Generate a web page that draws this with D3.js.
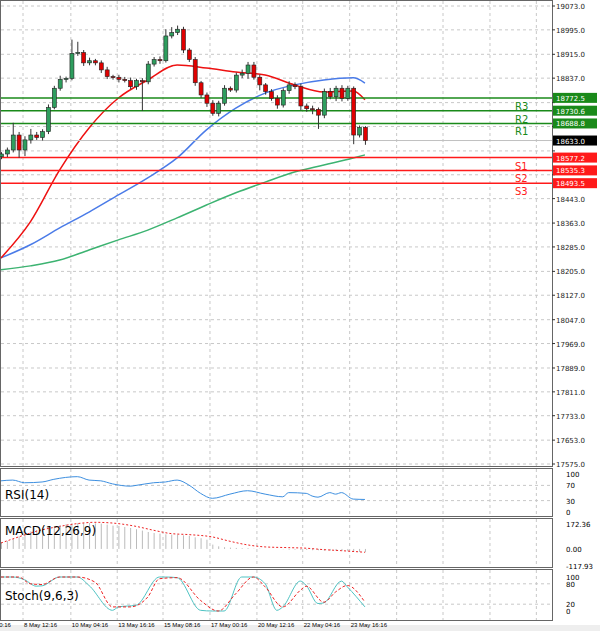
<!DOCTYPE html>
<html><head><meta charset="utf-8">
<script src="https://cdn.jsdelivr.net/npm/d3@7"></script>
<style>body{margin:0;background:#fff}svg{display:block;font-family:"DejaVu Sans",sans-serif}</style>
</head><body><svg id="c" width="600" height="631"></svg>
<script>
'use strict';
// candle closes (open = previous close)
const firstOpen = 18580;
const closes = [18589,18602,18651,18602,18635,18651,18643,18662,18741,18804,18833,18836,18918,18921,18887,18894,18887,18864,18842,18840,18833,18829,18809,18829,18825,18883,18898,18894,18975,18986,18997,18929,18898,18822,18782,18755,18722,18755,18804,18798,18847,18853,18880,18840,18815,18793,18771,18749,18796,18815,18809,18746,18737,18735,18716,18793,18776,18804,18771,18804,18651,18676,18633];
const wickUp = [6,8,40,10,12,20,10,8,10,8,12,6,45,35,8,10,6,8,10,6,8,8,10,6,8,10,8,10,22,18,12,8,6,8,6,8,10,8,10,6,8,12,10,10,8,6,8,10,8,12,8,10,8,10,6,10,12,8,10,8,6,6,4];
const wickDn = [8,10,8,25,20,12,8,10,8,6,8,10,6,8,10,8,8,10,8,8,10,6,8,10,95,8,8,10,6,8,8,10,8,10,10,12,8,10,8,6,8,10,18,8,18,10,8,12,8,10,8,14,10,16,45,10,8,14,10,8,30,8,14];

const maIdx = [0,5,10,15,20,25,30,35,40,45,50,55,60,62];
const maFast = [18249,18367,18537,18674,18772,18831,18880,18870,18857,18847,18815,18792,18795,18766];
const maMid = [18249,18292,18347,18399,18455,18511,18576,18668,18739,18788,18815,18831,18838,18821];
const maSlow = [18210,18223,18242,18275,18308,18340,18380,18422,18462,18497,18530,18553,18576,18586];

const levels = [
  {name:'R3', v:18772.5, c:'#1a8a1a'}, {name:'R2', v:18730.6, c:'#1a8a1a'}, {name:'R1', v:18688.8, c:'#1a8a1a'},
  {name:'S1', v:18577.2, c:'#ff1a1a'}, {name:'S2', v:18535.3, c:'#ff1a1a'}, {name:'S3', v:18493.5, c:'#ff1a1a'}
];
const lastPrice = 18633.0;
const priceTicks = [19073,18995,18915,18837,18757,18679,18599,18521,18443,18363,18285,18205,18127,18047,17969,17889,17811,17733,17653,17575];

const rsiIdx = [0,2,4,7,9,13,15,17,19,22,23,26,28,30,32,34,36,39,42,45,48,49,52,53,54,56,57,58,60,62];
const rsiVal = [82,84,77,79,86,93,84,82,74,68,70,77,79,84,71,49,36,47,56,47,40,51,49,42,39,51,47,51,34,33];

const macdHist = [46,55,69,87,104,122,131,140,150,156,163,170,177,179,179,179,177,175,168,161,159,152,145,136,127,117,110,106,101,99,99,94,90,80,74,64,30,18,12,9,7,5,5,2,2,0,0,0,-2,-5,-5,-7,-7,-9,-9,-12,-12,-14,-14,-16,-18,-21,-23];
const sigIdx = [0,3,6,10,13,16,19,23,26,29,32,36,39,42,45,49,52,55,58,62];
const sigVal = [41,83,122,156,175,184,179,156,129,106,99,83,53,28,14,9,5,-5,-12,-23];

const stIdx = [0,2,4,6,7,10,13,15,19,20,23,27,28,30,34,36,38,41,43,45,47,48,51,52,54,55,58,59,62];
const stMain = [100,100,92,73,74,100,100,75,2,12,17,100,100,98,2,0,0,100,100,80,2,12,88,75,22,24,88,71,12];
const sgIdx = [0,3,5,7,10,13,16,19,22,25,27,30,34,37,40,43,45,48,51,52,55,57,59,62];
const sgVal = [100,100,80,78,100,100,85,12,12,41,95,98,31,0,51,100,71,12,61,73,26,56,75,26];

const timeLabels = ['7 May 00:16','8 May 12:16','10 May 04:16','13 May 16:16','15 May 08:16','17 May 00:16','20 May 12:16','22 May 04:16','23 May 16:16'];
const timeIdx = [-4.1,3.75,11.9,19.8,27.6,35.6,43.6,51.4,59.4];
const gridIdx = [3.75,11.9,19.8,27.6,35.6,43.6,51.4,59.4,67.4,75.3,83.3,91.2];

const svg = d3.select('#c');
const W = 552;
const x = d3.scaleLinear().domain([0, 1]).range([1, 6.87]);
const y = d3.scaleLinear().domain([17575, 19073]).range([464, 6]);
const gridCol = '#c8c8c8';

// panels
const panels = [
  {top:0, bot:466},
  {top:468, bot:516},
  {top:518, bot:567},
  {top:569, bot:620}
];
panels.forEach(p => {
  svg.append('rect').attr('x', 0.5).attr('y', p.top + 0.5).attr('width', W).attr('height', p.bot - p.top)
    .attr('fill', '#fff').attr('stroke', '#666');
});
svg.append('rect').attr('x', 0).attr('y', 625).attr('width', 600).attr('height', 6).attr('fill', '#eeeeee');

function vgrid(top, bot) {
  gridIdx.forEach(i => {
    svg.append('line').attr('x1', x(i)).attr('x2', x(i)).attr('y1', top + 1).attr('y2', bot)
      .attr('stroke', gridCol).attr('stroke-dasharray', '3,3');
  });
}
panels.forEach(p => vgrid(p.top, p.bot));

// tags cover these tick labels
const tagged = levels.map(l => l.v).concat([lastPrice]);

// price grid + axis
priceTicks.forEach(t => {
  svg.append('line').attr('x1', 1).attr('x2', W).attr('y1', y(t)).attr('y2', y(t))
    .attr('stroke', gridCol).attr('stroke-dasharray', '3,3');
  svg.append('line').attr('x1', W).attr('x2', W + 3).attr('y1', y(t)).attr('y2', y(t)).attr('stroke', '#333');
  if (tagged.some(v => Math.abs(y(v) - y(t)) < 9)) return;
  svg.append('text').text(t.toFixed(1)).attr('x', 556).attr('y', y(t) + 3)
    .style('font-size', '7px').attr('fill', '#222');
});

// moving averages
const line = (xs, vs, sy) => d3.line().x((d, k) => x(xs[k])).y(d => sy(d)).curve(d3.curveMonotoneX)(vs);
svg.append('path').attr('d', line(maIdx, maSlow, y)).attr('fill', 'none').attr('stroke', '#3cb371').attr('stroke-width', 1.5);
svg.append('path').attr('d', line(maIdx, maMid, y)).attr('fill', 'none').attr('stroke', '#4a7be8').attr('stroke-width', 1.5);
svg.append('path').attr('d', line(maIdx, maFast, y)).attr('fill', 'none').attr('stroke', '#ee1111').attr('stroke-width', 1.5);

// level lines
svg.append('line').attr('x1', 1).attr('x2', W).attr('y1', y(lastPrice)).attr('y2', y(lastPrice)).attr('stroke', '#c0c0c0');
levels.forEach(l => {
  svg.append('line').attr('x1', 1).attr('x2', W).attr('y1', y(l.v)).attr('y2', y(l.v)).attr('stroke', l.c).attr('stroke-width', 1.5);
  svg.append('text').text(l.name).attr('x', 515).attr('y', y(l.v) + 12).attr('fill', l.c).style('font-size', '10px');
});

// candles
let prev = firstOpen;
const candles = closes.map((c, i) => {
  const o = prev; prev = c;
  return {i, o, c, h: Math.max(o, c) + wickUp[i], l: Math.min(o, c) - wickDn[i]};
});
const cg = svg.append('g');
cg.selectAll('line.w').data(candles).enter().append('line')
  .attr('x1', d => x(d.i) + 0.5).attr('x2', d => x(d.i) + 0.5)
  .attr('y1', d => y(d.h)).attr('y2', d => y(d.l)).attr('stroke', '#333');
cg.selectAll('rect').data(candles).enter().append('rect')
  .attr('x', d => x(d.i) - 1.5).attr('width', 4)
  .attr('y', d => y(Math.max(d.o, d.c)))
  .attr('height', d => Math.max(1, Math.abs(y(d.o) - y(d.c))))
  .attr('fill', d => d.c >= d.o ? '#2e9e5e' : '#e00000').attr('stroke', '#222').attr('stroke-width', 0.6);

// price tags
function tag(v, fill) {
  svg.append('rect').attr('x', 553).attr('y', y(v) - 5).attr('width', 44).attr('height', 10).attr('fill', fill);
  svg.append('text').text(v.toFixed(1)).attr('x', 556).attr('y', y(v) + 3).attr('fill', '#fff').style('font-size', '7px');
}
levels.forEach(l => tag(l.v, l.c === '#1a8a1a' ? '#1a8a1a' : '#ff1a1a'));
tag(lastPrice, '#000');

// RSI
const yr = d3.scaleLinear().domain([0, 100]).range([512, 474]);
[70, 30].forEach(t => svg.append('line').attr('x1', 1).attr('x2', W).attr('y1', yr(t)).attr('y2', yr(t)).attr('stroke', gridCol).attr('stroke-dasharray', '3,3'));
svg.append('path').attr('d', line(rsiIdx, rsiVal, yr)).attr('fill', 'none').attr('stroke', '#3d8fe0').attr('stroke-width', 1);
[100, 70, 30, 0].forEach(t => svg.append('text').text(t).attr('x', 566).attr('y', yr(t) + 3).style('font-size', '7px'));
svg.append('text').text('RSI(14)').attr('x', 5).attr('y', 499).style('font-size', '12px');

// MACD
const ym = d3.scaleLinear().domain([-117.93, 172.36]).range([566, 524]);
svg.selectAll('line.h').data(macdHist).enter().append('line')
  .attr('x1', (d, i) => x(i) + 0.5).attr('x2', (d, i) => x(i) + 0.5)
  .attr('y1', ym(0)).attr('y2', d => ym(d)).attr('stroke', '#bbb');
svg.append('path').attr('d', d3.line().x((d, k) => x(sigIdx[k])).y(d => ym(d)).curve(d3.curveMonotoneX)(sigVal))
  .attr('fill', 'none').attr('stroke', '#ee2222').attr('stroke-dasharray', '2,2');
[172.36, 0, -117.93].forEach(t => svg.append('text').text(t.toFixed(2)).attr('x', 566).attr('y', ym(t) + 3).style('font-size', '7px'));
svg.append('text').text('MACD(12,26,9)').attr('x', 5).attr('y', 535).style('font-size', '12px');

// Stochastic
const ys = d3.scaleLinear().domain([0, 100]).range([611, 577]);
[80, 20].forEach(t => svg.append('line').attr('x1', 1).attr('x2', W).attr('y1', ys(t)).attr('y2', ys(t)).attr('stroke', gridCol).attr('stroke-dasharray', '3,3'));
svg.append('path').attr('d', d3.line().x((d, k) => x(stIdx[k])).y(d => ys(d)).curve(d3.curveMonotoneX)(stMain))
  .attr('fill', 'none').attr('stroke', '#4fc3c3').attr('stroke-width', 1);
svg.append('path').attr('d', d3.line().x((d, k) => x(sgIdx[k])).y(d => ys(d)).curve(d3.curveMonotoneX)(sgVal))
  .attr('fill', 'none').attr('stroke', '#ee2222').attr('stroke-dasharray', '3,2');
[100, 80, 20, 0].forEach(t => svg.append('text').text(t).attr('x', 566).attr('y', ys(t) + 3).style('font-size', '7px'));
svg.append('text').text('Stoch(9,6,3)').attr('x', 5).attr('y', 600).style('font-size', '12px');

// time labels
timeLabels.forEach((t, k) => {
  svg.append('text').text(t).attr('x', x(timeIdx[k]) + 1).attr('y', 627)
    .style('font-size', '6px').style('font-family', '"Liberation Sans", sans-serif');
});
</script></body></html>
